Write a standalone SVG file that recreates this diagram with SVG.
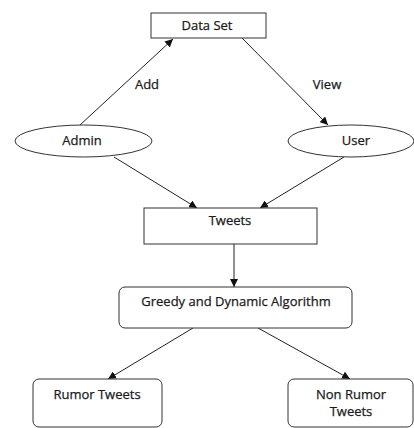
<svg xmlns="http://www.w3.org/2000/svg" width="414" height="428" viewBox="0 0 414 428">
<style>
.box{fill:#fff;stroke:#333;stroke-width:1}
.t{font-family:"Open Sans","Liberation Sans",sans-serif;font-size:13px;fill:#1a1a1a;stroke:#1a1a1a;stroke-width:0.25;text-anchor:middle;dominant-baseline:central}
.c{stroke:#222;stroke-width:1;fill:none;marker-end:url(#ah)}
</style>
<defs>
<marker id="ah" viewBox="0 0 10 10" refX="10" refY="5" markerWidth="8" markerHeight="8" markerUnits="userSpaceOnUse" orient="auto">
<path d="M0,0 L10,5 L0,10 z" fill="#111"/>
</marker>
</defs>
<rect width="414" height="428" fill="#fff"/>
<g id="connectors">
<line class="c" x1="80" y1="125" x2="173" y2="39"/>
<line class="c" x1="242" y1="38" x2="328" y2="125"/>
<line class="c" x1="114" y1="157" x2="197" y2="208"/>
<line class="c" x1="344" y1="157" x2="260" y2="208"/>
<line class="c" x1="234" y1="244" x2="234" y2="287"/>
<line class="c" x1="193" y1="328" x2="108" y2="379"/>
<line class="c" x1="258" y1="328" x2="350" y2="379"/>
<text class="t" x="147" y="84">Add</text>
<text class="t" x="327" y="84">View</text>
</g>
<g id="dataset">
<rect class="box" x="151" y="13" width="115" height="25"/>
<text class="t" x="207" y="25">Data Set</text>
</g>
<g id="admin">
<ellipse class="box" cx="83.5" cy="141" rx="68.5" ry="16"/>
<text class="t" x="82" y="140">Admin</text>
</g>
<g id="user">
<ellipse class="box" cx="351" cy="141" rx="63" ry="16"/>
<text class="t" x="356" y="140">User</text>
</g>
<g id="tweets">
<rect class="box" x="144" y="208" width="173" height="36"/>
<text class="t" x="230" y="220">Tweets</text>
</g>
<g id="greedy">
<rect class="box" x="119" y="287" width="233" height="41" rx="6"/>
<text class="t" x="236" y="301">Greedy and Dynamic Algorithm</text>
</g>
<g id="rumor">
<rect class="box" x="33" y="379" width="129" height="48" rx="6"/>
<text class="t" x="97" y="394">Rumor Tweets</text>
</g>
<g id="nonrumor">
<rect class="box" x="288" y="379" width="125" height="48" rx="6"/>
<text class="t" x="351" y="394">Non Rumor</text>
<text class="t" x="351" y="411">Tweets</text>
</g>
</svg>
